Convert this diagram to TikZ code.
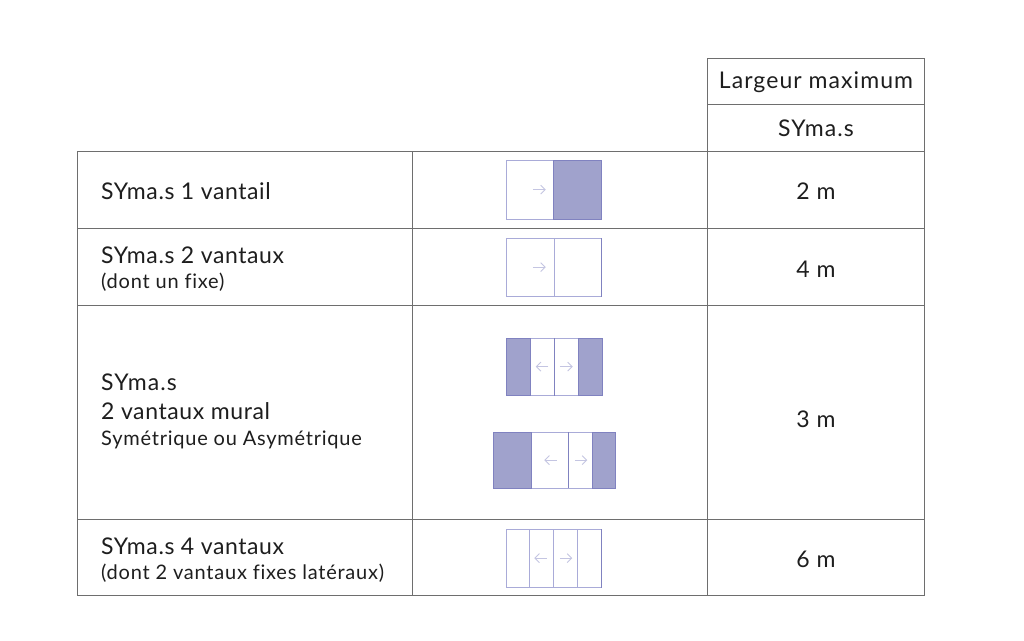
\documentclass[tikz,border=0pt]{standalone}
\usepackage{fontspec}
\setmainfont{Lato}
\newfontfamily\headfont[LetterSpace=4.6,Ligatures=NoCommon]{Lato}
\newfontfamily\labfont[LetterSpace=2.6,Ligatures=NoCommon]{Lato}
\newfontfamily\subfont[LetterSpace=3.8,Ligatures=NoCommon]{Lato}
\usetikzlibrary{arrows.meta}
\definecolor{rule}{HTML}{6E6E6E}
\definecolor{doorline}{HTML}{A9ABD8}
\definecolor{doordark}{HTML}{8082C0}
\definecolor{doorfill}{HTML}{A0A2CC}
\definecolor{arrowcol}{HTML}{C4C5E2}
\definecolor{txt}{HTML}{1E1E1E}
\tikzset{
  x=1pt,y=-1pt,
  grid/.style={draw=rule,line width=0.9pt},
  door/.style={draw=doorline,line width=1.2pt},
  fixedleaf/.style={draw=doordark,line width=1.2pt,fill=doorfill},
  movearrow/.style={draw=arrowcol,line width=0.9pt,-{Straight Barb[length=4.5pt,width=9pt,line width=0.9pt]}},
  lab/.style={inner sep=0pt,anchor=base west,text=txt,font=\labfont\fontsize{23}{26}\selectfont},
  labw/.style={inner sep=0pt,anchor=base west,text=txt,font=\headfont\fontsize{23}{26}\selectfont},
  sub/.style={inner sep=0pt,anchor=base west,text=txt,font=\subfont\fontsize{20}{23}\selectfont},
  val/.style={inner sep=0pt,anchor=base,text=txt,font=\headfont\fontsize{23}{26}\selectfont}
}
\begin{document}
\begin{tikzpicture}
\useasboundingbox (0,0) rectangle (1024,640);
\fill[white] (0,0) rectangle (1024,640);
% table
\draw[grid] (707.3,58.3) rectangle (924.3,151);
\draw[grid] (707.3,104) -- (924.3,104);
\draw[grid] (77.3,151) rectangle (924.3,595.7);
\draw[grid] (77.3,228) -- (924.3,228);
\draw[grid] (77.3,305) -- (924.3,305);
\draw[grid] (77.3,519) -- (924.3,519);
\draw[grid] (412.2,151) -- (412.2,595.7);
\draw[grid] (707.3,151) -- (707.3,595.7);
% labels
\node[val] (h1) at (816,88) {Largeur maximum};
\node[val] (h2) at (816,136) {SYma.s};
\node[lab] (r1) at (101,199) {SYma.s 1 vantail};
\node[lab] (r2) at (101,263) {SYma.s 2 vantaux};
\node[sub] (r2b) at (101,288) {(dont un fixe)};
\node[labw] (r3) at (101,390) {SYma.s};
\node[lab] (r3b) at (101,419) {2 vantaux mural};
\node[sub] (r3c) at (101,445) {Symétrique ou Asymétrique};
\node[lab] (r4) at (101,554) {SYma.s 4 vantaux};
\node[sub] (r4b) at (101,579) {(dont 2 vantaux fixes latéraux)};
\node[val] (v1) at (816,199) {2 m};
\node[val] (v2) at (816,277) {4 m};
\node[val] (v3) at (816,427) {3 m};
\node[val] (v4) at (816,567) {6 m};
\begin{scope}[shift={(-0.2,0.1)}]
% glyph 1
\draw[door] (507,160) rectangle (554,219);
\draw[fixedleaf] (554,160) rectangle (602,219);
\draw[movearrow] (533,189.5) -- (546,189.5);
% glyph 2
\draw[door] (507,238) rectangle (602,296.5);
\draw[door] (554.5,238) -- (554.5,296.5);
\draw[doordark,line width=1.2pt] (602,238) -- (602,296.5);
\draw[movearrow] (533,267) -- (546,267);
% glyph 3
\draw[door] (531,338) rectangle (578.5,395.5);
\draw[door,draw=doordark] (554.7,338) -- (554.7,395.5);
\draw[fixedleaf] (507,338) rectangle (531,395.5);
\draw[fixedleaf] (578.5,338) rectangle (602.5,395.5);
\draw[movearrow] (548.5,366.5) -- (536,366.5);
\draw[movearrow] (560,366.5) -- (573,366.5);
% glyph 4
\draw[door] (531.5,432) rectangle (592.5,488);
\draw[door,draw=doordark] (569,432) -- (569,488);
\draw[fixedleaf] (493.5,432) rectangle (531.5,488);
\draw[fixedleaf] (592.5,432) rectangle (616,488);
\draw[movearrow] (557,460) -- (544.5,460);
\draw[movearrow] (575,460) -- (587.5,460);
% glyph 5
\draw[door] (507,529) rectangle (602,587.5);
\draw[door] (530,529) -- (530,587.5);
\draw[door] (553.5,529) -- (553.5,587.5);
\draw[door] (577.5,529) -- (577.5,587.5);
\draw[doordark,line width=1.2pt] (602,529) -- (602,587.5);
\draw[movearrow] (547,558) -- (534.5,558);
\draw[movearrow] (560,558) -- (572.5,558);
\end{scope}
\end{tikzpicture}
\end{document}
